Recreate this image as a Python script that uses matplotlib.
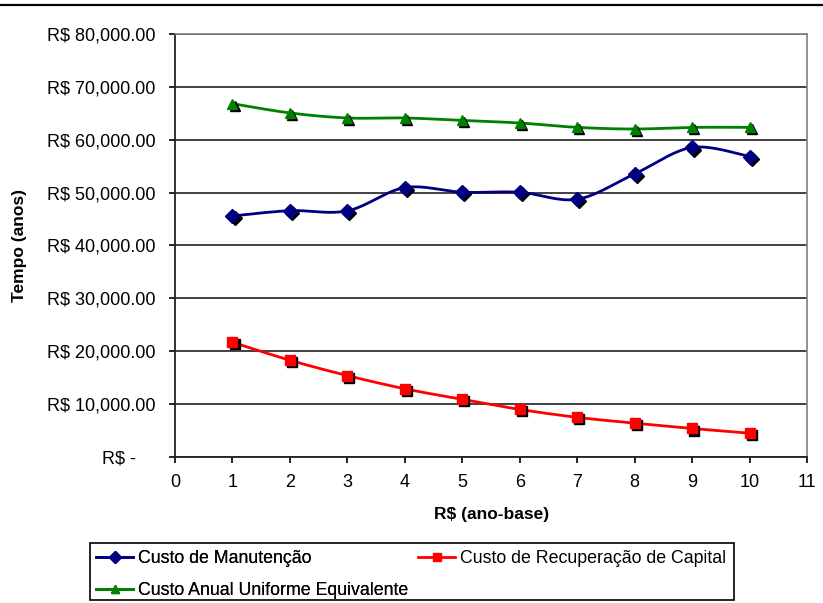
import numpy as np
import matplotlib.pyplot as plt
from matplotlib.lines import Line2D
from matplotlib.patches import Rectangle
from matplotlib.transforms import offset_copy

plt.rcParams['font.family'] = ['Liberation Sans', 'DejaVu Sans']

# Data
anos = [1, 2, 3, 4, 5, 6, 7, 8, 9, 10]
manutencao = [45580, 46590, 46550, 50950, 50070, 50070, 48750, 53550, 58540, 56830]
recuperacao = [21700, 18300, 15400, 12900, 10900, 9000, 7500, 6400, 5400, 4500]
caue = [66830, 65070, 64120, 64120, 63660, 63170, 62340, 62030, 62340, 62340]

y_ticks = [0, 10000, 20000, 30000, 40000, 50000, 60000, 70000, 80000]
x_ticks = list(range(0, 12))


def smooth(x, y, n=20):
    # Catmull-Rom spline through the points (Excel-like smoothed line)
    x = np.asarray(x, float)
    y = np.asarray(y, float)
    px = np.concatenate([[x[0]], x, [x[-1]]])
    py = np.concatenate([[y[0]], y, [y[-1]]])
    xs, ys = [], []
    t = np.linspace(0, 1, n)
    for i in range(1, len(px) - 2):
        b0 = -0.5 * t**3 + t**2 - 0.5 * t
        b1 = 1.5 * t**3 - 2.5 * t**2 + 1
        b2 = -1.5 * t**3 + 2 * t**2 + 0.5 * t
        b3 = 0.5 * t**3 - 0.5 * t**2
        xs.append(b0 * px[i - 1] + b1 * px[i] + b2 * px[i + 1] + b3 * px[i + 2])
        ys.append(b0 * py[i - 1] + b1 * py[i] + b2 * py[i + 1] + b3 * py[i + 2])
    return np.concatenate(xs), np.concatenate(ys)


def fmt(v):
    if v == 0:
        return 'R$ -    '
    return 'R$ {:,.2f}'.format(v)


fig = plt.figure(figsize=(8.23, 6.03), dpi=100)
ax = fig.add_axes([175 / 823, 1 - 457 / 603, 632 / 823, 423 / 603])

series = [
    (manutencao, '#000080', 'D', 7.5, 'Custo de Manutenção'),
    (recuperacao, '#FF0000', 's', 7.5, 'Custo de Recuperação de Capital'),
    (caue, '#008000', '^', 7.5, 'Custo Anual Uniforme Equivalente'),
]

shadow = offset_copy(ax.transData, fig=fig, x=1.5, y=-1.5, units='points')
handles = {}
for vals, color, marker, ms, label in series:
    sx, sy = smooth(anos, vals)
    ax.plot(sx, sy, color=color, lw=2.0, zorder=3)
    ax.plot(anos, vals, ls='none', marker=marker, ms=ms, color='black',
            transform=shadow, zorder=4)
    ax.plot(anos, vals, ls='none', marker=marker, ms=ms, color=color,
            markeredgecolor=color, zorder=5)
    handles[label] = Line2D([], [], color=color, lw=2.0, marker=marker,
                            ms=ms - 1.5, markeredgecolor=color)

ax.set_xlim(0, 11)
ax.set_ylim(0, 80000)
ax.set_xticks(x_ticks)
ax.set_yticks(y_ticks)
ax.set_yticklabels([fmt(v) for v in y_ticks])
ax.tick_params(axis='both', direction='out', length=4, width=1.2,
               labelsize=13, colors='black')
ax.tick_params(axis='y', pad=10)
ax.tick_params(axis='x', pad=8)
ax.grid(axis='y', color='#333333', lw=1.3)
ax.set_axisbelow(True)
for s in ['top', 'right']:
    ax.spines[s].set_color('#808080')
    ax.spines[s].set_linewidth(1.2)
for s in ['left', 'bottom']:
    ax.spines[s].set_color('#222222')
    ax.spines[s].set_linewidth(1.3)

fig.text(492 / 823, 1 - 515 / 603, 'R$ (ano-base)', fontsize=12.5,
         fontweight='bold', ha='center', va='center')
fig.text(20 / 823, 1 - 245 / 603, 'Tempo (anos)', rotation=90, fontsize=12.5,
         fontweight='bold', ha='center', va='center')

# thin rule across the top
fig.add_artist(Line2D([0, 1], [1 - 5 / 603, 1 - 5 / 603], color='black', lw=1.6))

# legend frame and entries
fig.add_artist(Rectangle((90 / 823, 1 - 600 / 603), 644 / 823, 57 / 603,
                         fill=False, edgecolor='black', lw=1.2,
                         transform=fig.transFigure))
leg_kw = dict(loc='upper left', frameon=False, fontsize=12.75, handlelength=2.1,
              handletextpad=0.25, labelspacing=0.85, borderpad=0,
              borderaxespad=0)
leg1 = fig.legend([handles['Custo de Manutenção'], handles['Custo Anual Uniforme Equivalente']],
                  ['Custo de Manutenção', 'Custo Anual Uniforme Equivalente'],
                  bbox_to_anchor=(96 / 823, 1 - 550 / 603), **leg_kw)
fig.add_artist(leg1)
fig.legend([handles['Custo de Recuperação de Capital']],
           ['Custo de Recuperação de Capital'],
           bbox_to_anchor=(418 / 823, 1 - 550 / 603), **leg_kw)

fig.savefig('out.png', dpi=100)
